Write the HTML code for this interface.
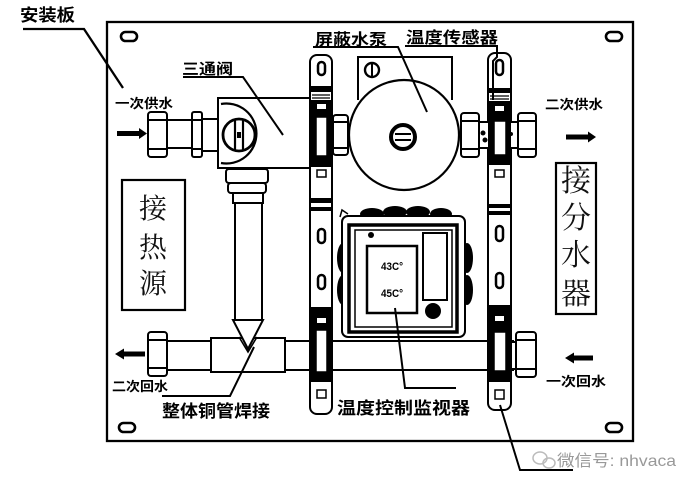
<!DOCTYPE html>
<html><head><meta charset="utf-8"><style>
html,body{margin:0;padding:0;background:#fff;}
svg{display:block;}
.l{font-family:"Liberation Sans","Noto Sans CJK SC",sans-serif;font-weight:bold;fill:#000;}
.b{font-family:"Liberation Serif","Noto Serif CJK SC",serif;fill:#111;}
</style></head><body>
<svg width="686" height="484" viewBox="0 0 686 484" xmlns="http://www.w3.org/2000/svg">
<rect width="686" height="484" fill="#fff"/>
<g fill="none" stroke="#000" stroke-width="2">
<!-- panel -->
<rect x="107" y="22" width="526" height="419" stroke-width="2.3"/>
<!-- mount slots -->
<rect x="121" y="32" width="16" height="9" rx="4.5" stroke-width="2.6"/>
<rect x="606" y="32" width="16" height="9" rx="4.5" stroke-width="2.6"/>
<rect x="119" y="423" width="16" height="9" rx="4.5" stroke-width="2.6"/>
<rect x="606" y="423" width="16" height="9" rx="4.5" stroke-width="2.6"/>

<!-- 接热源 box -->
<rect x="122" y="180" width="63" height="130" stroke-width="2.2"/>
<!-- 接分水器 box -->
<rect x="556" y="163" width="40" height="151" stroke-width="2.2"/>

<!-- inlet fittings -->
<rect x="148" y="112" width="19" height="45" rx="3" fill="#fff"/>
<line x1="149" y1="120" x2="166" y2="120"/><line x1="149" y1="149" x2="166" y2="149"/>
<rect x="167" y="120" width="25" height="28" fill="#fff"/>
<rect x="192" y="112" width="10" height="45" rx="2" fill="#fff"/>
<line x1="193" y1="120" x2="201" y2="120"/><line x1="193" y1="149" x2="201" y2="149"/>
<rect x="202" y="119" width="17" height="32" fill="#fff"/>
<!-- valve box -->
<rect x="218" y="98" width="92" height="70" fill="#fff"/>
<path d="M221,104 A30,30 0 1 1 221,163" stroke-width="2.2"/>
<circle cx="239" cy="135" r="16" stroke-width="2.8"/>
<line x1="235" y1="120" x2="235" y2="150" stroke-width="2.2"/>
<line x1="243" y1="120" x2="243" y2="150" stroke-width="2.2"/>
<rect x="237" y="132" width="4" height="6" fill="#000" stroke="none"/>

<!-- vertical fitting and pipe -->
<rect x="226" y="169" width="42" height="14" rx="3" fill="#fff"/>
<rect x="228" y="183" width="38" height="10" rx="3" fill="#fff"/>
<rect x="233" y="193" width="30" height="10" fill="#fff"/>
<line x1="235" y1="203" x2="235" y2="320"/>
<line x1="262" y1="203" x2="262" y2="320"/>

<!-- bottom pipe -->
<rect x="167" y="341" width="46" height="29" fill="#fff"/>
<rect x="211" y="338" width="74" height="34" fill="#fff"/>
<rect x="285" y="341" width="28" height="29" fill="#fff"/>
<rect x="313" y="341" width="200" height="29" fill="#fff"/>
<rect x="148" y="332" width="19" height="44" rx="3" fill="#fff"/>
<line x1="149" y1="340" x2="166" y2="340"/><line x1="149" y1="368" x2="166" y2="368"/>
<rect x="510" y="342" width="7" height="27" fill="#fff"/>
<rect x="516" y="332" width="20" height="45" rx="3" fill="#fff"/>
<line x1="517" y1="340" x2="535" y2="340"/><line x1="517" y1="369" x2="535" y2="369"/>
<!-- V weld -->
<path d="M233,320 L263,320 L248,349 Z" fill="#fff"/>
<path d="M239,337 L248,352 L257,337" stroke-width="1.6"/>

<!-- pump -->
<path d="M358,100 L358,57 L452,57 L452,100" stroke-width="2"/>
<circle cx="372" cy="70" r="7" stroke-width="2.4"/>
<line x1="372" y1="63" x2="372" y2="77" stroke-width="2"/>
<circle cx="404" cy="135" r="55" fill="#fff" stroke-width="2.2"/>
<circle cx="403" cy="137" r="12" stroke-width="4"/>
<line x1="395" y1="134" x2="411" y2="134" stroke-width="2"/>
<line x1="395" y1="140" x2="411" y2="140" stroke-width="2"/>

<!-- controller -->
<g fill="#000" stroke="none">
<ellipse cx="372" cy="214" rx="12" ry="6"/><ellipse cx="395" cy="212" rx="12" ry="6"/>
<ellipse cx="418" cy="212" rx="12" ry="6"/><ellipse cx="441" cy="214" rx="11" ry="6"/>
<ellipse cx="343" cy="258" rx="6" ry="15"/><ellipse cx="343" cy="290" rx="6" ry="15"/>
<ellipse cx="467" cy="258" rx="6" ry="15"/><ellipse cx="467" cy="290" rx="6" ry="15"/>
</g>
<rect x="342" y="216" width="123" height="121" rx="6" fill="#fff"/>
<rect x="349" y="225" width="108" height="107" stroke-width="3.5"/>
<rect x="355" y="230" width="97" height="97" stroke-width="1.5"/>
<rect x="367" y="246" width="50" height="67" stroke-width="2.5" fill="#fff"/>
<rect x="423" y="233" width="24" height="67" stroke-width="2"/>
<circle cx="433" cy="311" r="8" fill="#000" stroke="none"/>
<circle cx="371" cy="235" r="3" fill="#000" stroke="none"/>
<path d="M340,217 L342,210 L348,214" stroke-width="1.5"/>
</g>

<!-- posts -->
<g stroke="#000" stroke-width="2">
<!-- left post -->
<rect x="310" y="55" width="22" height="359" rx="7" fill="#fff"/>
<rect x="318" y="62" width="7" height="13" rx="3.5" fill="none" stroke-width="2.5"/>
<rect x="311" y="86" width="20" height="6" fill="#000" stroke="none"/>
<line x1="312" y1="95" x2="330" y2="95" stroke-width="1.3"/>
<line x1="312" y1="98" x2="330" y2="98" stroke-width="1.3"/>
<rect x="311" y="100" width="20" height="67" fill="#000" stroke="none"/>
<rect x="317" y="104" width="9" height="5" fill="#fff" stroke="none"/>
<rect x="316" y="117" width="11" height="39" fill="#fff" stroke-width="1.5"/>
<rect x="317" y="170" width="9" height="7" fill="#fff" stroke-width="1.5"/>
<rect x="311" y="198" width="20" height="5" fill="#000" stroke="none"/>
<rect x="311" y="207" width="20" height="4" fill="#000" stroke="none"/>
<rect x="318" y="229" width="7" height="14" rx="3.5" fill="none" stroke-width="2.5"/>
<rect x="318" y="275" width="7" height="14" rx="3.5" fill="none" stroke-width="2.5"/>
<rect x="311" y="307" width="20" height="75" fill="#000" stroke="none"/>
<rect x="317" y="318" width="9" height="5" fill="#fff" stroke="none"/>
<rect x="316" y="330" width="11" height="42" fill="#fff" stroke-width="1.5"/>
<rect x="317" y="390" width="9" height="8" fill="#fff" stroke-width="1.5"/>
<!-- right post -->
<rect x="488" y="53" width="23" height="357" rx="7" fill="#fff"/>
<rect x="496" y="60" width="7" height="15" rx="3.5" fill="none" stroke-width="2.5"/>
<rect x="489" y="88" width="21" height="5" fill="#000" stroke="none"/>
<line x1="490" y1="96" x2="509" y2="96" stroke-width="1.3"/>
<line x1="490" y1="99" x2="509" y2="99" stroke-width="1.3"/>
<rect x="489" y="101" width="21" height="64" fill="#000" stroke="none"/>
<rect x="495" y="106" width="9" height="5" fill="#fff" stroke="none"/>
<rect x="494" y="121" width="12" height="34" fill="#fff" stroke-width="1.5"/>
<rect x="495" y="170" width="9" height="7" fill="#fff" stroke-width="1.5"/>
<rect x="489" y="204" width="21" height="4" fill="#000" stroke="none"/>
<rect x="489" y="211" width="21" height="4" fill="#000" stroke="none"/>
<rect x="496" y="226" width="7" height="15" rx="3.5" fill="none" stroke-width="2.5"/>
<rect x="496" y="273" width="7" height="15" rx="3.5" fill="none" stroke-width="2.5"/>
<rect x="489" y="305" width="21" height="77" fill="#000" stroke="none"/>
<rect x="495" y="316" width="9" height="5" fill="#fff" stroke="none"/>
<rect x="494" y="332" width="12" height="39" fill="#fff" stroke-width="1.5"/>
<rect x="495" y="390" width="9" height="9" fill="#fff" stroke-width="1.5"/>
</g>

<!-- pump side fittings -->
<g fill="#fff" stroke="#000" stroke-width="2">
<rect x="333" y="115" width="15" height="40" rx="3"/>
<line x1="334" y1="122" x2="347" y2="122"/><line x1="334" y1="148" x2="347" y2="148"/>
<rect x="461" y="113" width="18" height="44" rx="3"/>
<line x1="462" y1="121" x2="478" y2="121"/><line x1="462" y1="149" x2="478" y2="149"/>
<rect x="479" y="122" width="10" height="26"/>
<rect x="510" y="122" width="8" height="26"/>
<rect x="518" y="113" width="18" height="44" rx="3"/>
<line x1="519" y1="121" x2="535" y2="121"/><line x1="519" y1="149" x2="535" y2="149"/>
</g>
<circle cx="483" cy="133" r="2.5" fill="#000"/><circle cx="485" cy="140" r="2.5" fill="#000"/>
<circle cx="511" cy="134" r="2" fill="#000"/>

<!-- arrows -->
<g fill="#000">
<path d="M117,131 L139,131 L139,128 L147,133.5 L139,139 L139,136 L117,136 Z"/>
<path d="M566,134.5 L588,134.5 L588,131.5 L596,137 L588,142.5 L588,139.5 L566,139.5 Z"/>
<path d="M115,354 L124,348.5 L124,351.5 L145,351.5 L145,356.5 L124,356.5 L124,359.5 Z"/>
<path d="M565,358 L574,352.5 L574,355.5 L593,355.5 L593,360.5 L574,360.5 L574,363.5 Z"/>
</g>

<!-- leaders -->
<g fill="none" stroke="#000" stroke-width="2">
<path d="M23,29 L84,29 L123,88" stroke-width="2.3"/>
<path d="M183,77 L243,77 L283,135"/>
<path d="M313,47 L398,47 L427,112"/>
<path d="M405,46 L497,46 L497,57 L493,61 L493,100" />
<path d="M395,308 L405,388 L456,388"/>
<path d="M162,396 L230,396 L254,347"/>
<path d="M500,405 L520,470 L573,470"/>
</g>

<!-- labels -->
<text class="l" x="20" y="21" font-size="17" textLength="55" lengthAdjust="spacingAndGlyphs">安装板</text>
<text class="l" x="182" y="74" font-size="15" textLength="51" lengthAdjust="spacingAndGlyphs">三通阀</text>
<text class="l" x="315" y="45" font-size="16" textLength="72" lengthAdjust="spacingAndGlyphs">屏蔽水泵</text>
<text class="l" x="406" y="43" font-size="16" textLength="92" lengthAdjust="spacingAndGlyphs">温度传感器</text>
<text class="l" x="115" y="108" font-size="13" textLength="58" lengthAdjust="spacingAndGlyphs">一次供水</text>
<text class="l" x="545" y="109" font-size="13" textLength="58" lengthAdjust="spacingAndGlyphs">二次供水</text>
<text class="l" x="112" y="391" font-size="13" textLength="56" lengthAdjust="spacingAndGlyphs">二次回水</text>
<text class="l" x="546" y="386" font-size="13" textLength="60" lengthAdjust="spacingAndGlyphs">一次回水</text>
<text class="l" x="162" y="417" font-size="17" textLength="108" lengthAdjust="spacingAndGlyphs">整体铜管焊接</text>
<text class="l" x="337" y="414" font-size="17" textLength="133" lengthAdjust="spacingAndGlyphs">温度控制监视器</text>
<text class="l" x="381" y="270" font-size="11" textLength="22" lengthAdjust="spacingAndGlyphs">43C°</text>
<text class="l" x="381" y="297" font-size="11" textLength="22" lengthAdjust="spacingAndGlyphs">45C°</text>

<g class="b" font-size="28" text-anchor="middle">
<text x="153" y="218">接</text>
<text x="153" y="257">热</text>
<text x="153" y="293">源</text>
</g>
<g class="b" font-size="30" text-anchor="middle">
<text x="576" y="191">接</text>
<text x="576" y="228">分</text>
<text x="576" y="265">水</text>
<text x="576" y="304">器</text>
</g>

<!-- watermark -->
<g fill="none" stroke="#bbb" stroke-width="1.5">
<ellipse cx="540" cy="458" rx="7" ry="6"/>
<ellipse cx="549" cy="463" rx="6" ry="5"/>
</g>
<text x="557" y="466" font-family="Liberation Sans,Noto Sans CJK SC,sans-serif" font-size="16" fill="#999" textLength="119" lengthAdjust="spacingAndGlyphs">微信号: nhvaca</text>
</svg>
</body></html>
